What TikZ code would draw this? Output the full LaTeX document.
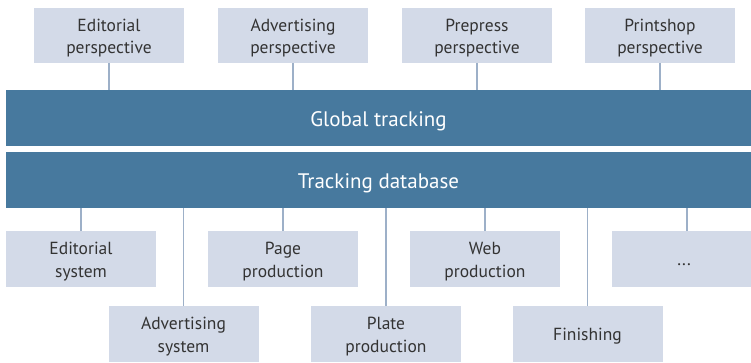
\documentclass[tikz,border=0pt]{standalone}
\usepackage{fontspec}
\setmainfont{PT Sans}
\definecolor{barblue}{HTML}{47799E}
\definecolor{boxgray}{HTML}{D3DAE8}
\definecolor{linegray}{HTML}{9DB0C8}
\definecolor{textgray}{HTML}{333333}
\begin{document}
\begin{tikzpicture}[x=1pt,y=-1pt,
        boxtext/.style={text=textgray,align=center,inner sep=0pt,yshift=-2.5pt,
            font=\fontsize{17.5}{22.5}\selectfont},
        box/.style={fill=boxgray,minimum width=150pt,minimum height=56pt,
            inner sep=0pt,outer sep=0pt,label={[boxtext]center:#1}},
        bartext/.style={text=white,inner sep=0pt,yshift=-3.5pt,font=\fontsize{21}{24}\selectfont},
        bar/.style={fill=barblue,minimum width=745pt,minimum height=56pt,
            inner sep=0pt,outer sep=0pt,label={[bartext]center:#1}},
        link/.style={draw=linegray,line width=1.2pt}]
                    \useasboundingbox (0,0) rectangle (751,363);

                    % perspectives
                    \node[box={Editorial\\perspective},minimum height=55pt] (ep) at (109,35.5) {};
                    \node[box={Advertising\\perspective},minimum height=55pt] (ap) at (293,35.5) {};
                    \node[box={Prepress\\perspective},minimum height=55pt] (pp) at (477,35.5) {};
                    \node[box={Printshop\\perspective},minimum height=55pt] (sp) at (660,35.5) {};

                    % bars
                    \node[bar={Global tracking}] (glob) at (378.5,118) {};
                    \node[bar={Tracking database}] (db) at (378.5,180) {};

                    % systems
                    \node[box={Editorial\\system}] (es) at (81,259) {};
                    \node[box={Page\\production}] (pg) at (283,259) {};
                    \node[box={Web\\production}] (wb) at (485,259) {};
                    \node[box={\hspace{-6pt}\raisebox{-8pt}{...}}] (etc) at (687,259) {};
                    \node[box={Advertising\\system}] (as) at (183.5,334) {};
                    \node[box={Plate\\production}] (pl) at (386,334) {};
                    \node[box={Finishing}] (fi) at (587.5,334) {};

                    \foreach \n in {ep,ap,pp,sp}
                        \draw[link] (\n.south) -- (\n.south |- glob.north);
                    \foreach \n in {es,pg,wb,etc,as,pl,fi}
                        \draw[link] (\n.north) -- (\n.north |- db.south);
                \end{tikzpicture}
\end{document}
